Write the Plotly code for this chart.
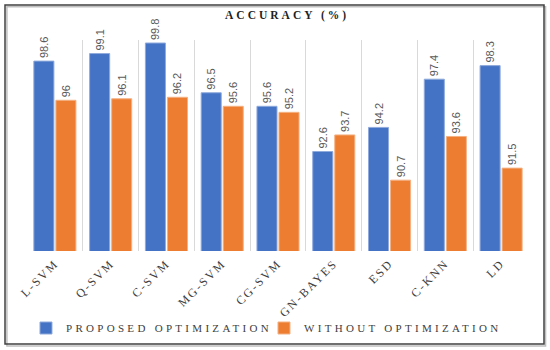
import plotly.graph_objects as go

categories = ["L-SVM", "Q-SVM", "C-SVM", "MG-SVM", "CG-SVM", "GN-BAYES", "ESD", "C-KNN", "LD"]
proposed = [98.6, 99.1, 99.8, 96.5, 95.6, 92.6, 94.2, 97.4, 98.3]
without = [96, 96.1, 96.2, 95.6, 95.2, 93.7, 90.7, 93.6, 91.5]
series_names = ["PROPOSED OPTIMIZATION", "WITHOUT OPTIMIZATION"]
title_text = "ACCURACY (%)"

def spaced(t, px):
    return f'<span style="letter-spacing:{px}px">{t}</span>'

fig = go.Figure()
fig.add_trace(go.Bar(
    x=categories, y=proposed, name=spaced(series_names[0], 3.3),
    marker=dict(color="#4472C4", line=dict(color="#8FAADC", width=1)),
    text=[str(v) for v in proposed], textposition="outside", textangle=-90,
    textfont=dict(family="Liberation Sans", size=11, color="#595959"),
    cliponaxis=False, constraintext="none",
))
fig.add_trace(go.Bar(
    x=categories, y=without, name=spaced(series_names[1], 3.3),
    marker=dict(color="#ED7D31", line=dict(color="#F4B183", width=1)),
    text=[str(v) for v in without], textposition="outside", textangle=-90,
    textfont=dict(family="Liberation Sans", size=11, color="#595959"),
    cliponaxis=False, constraintext="none",
))

fig.update_layout(
    width=550, height=350,
    margin=dict(l=27, r=21, t=40, b=99, autoexpand=False),
    paper_bgcolor="white", plot_bgcolor="white",
    barmode="group", bargap=0.21, bargroupgap=0.09,
    title=dict(text="<b>" + spaced(title_text, 3) + "</b>", x=0.522, xanchor="center",
               y=0.957, yanchor="middle",
               font=dict(family="Liberation Serif", size=11.5, color="#1F1F1F")),
    legend=dict(orientation="h", x=-0.002, xanchor="left", y=-0.365, yanchor="middle",
                font=dict(family="Liberation Serif", size=11, color="#404040"),
                bgcolor="rgba(0,0,0,0)", entrywidth=193, entrywidthmode="pixels",
                itemwidth=30, traceorder="normal"),
    xaxis=dict(type="category", tickson="boundaries", showgrid=True, gridcolor="#D9D9D9",
               gridwidth=1, tickangle=-45, ticks="", ticklabelstandoff=2, automargin=False,
               tickmode="array", tickvals=categories,
               ticktext=[spaced(c, 2) for c in categories],
               tickfont=dict(family="Liberation Serif", size=12, color="#404040"),
               showline=False, zeroline=False),
    yaxis=dict(range=[86, 100], visible=False, showgrid=False, automargin=False),
    shapes=[
        dict(type="rect", xref="paper", yref="paper", x0=-0.040, x1=1.033, y0=-0.450, y1=1.157,
             line=dict(color="#BFBFBF", width=1.5), layer="below"),
        dict(type="rect", xref="paper", yref="paper", x0=-0.0438, x1=1.0299, y0=-0.4408, y1=1.166,
             line=dict(color="#404040", width=1.5), fillcolor="rgba(0,0,0,0)", layer="above"),
    ],
)

fig.write_html("out.html", config={"displayModeBar": False},
               post_script="document.body.style.margin='0';document.body.style.padding='0';")
